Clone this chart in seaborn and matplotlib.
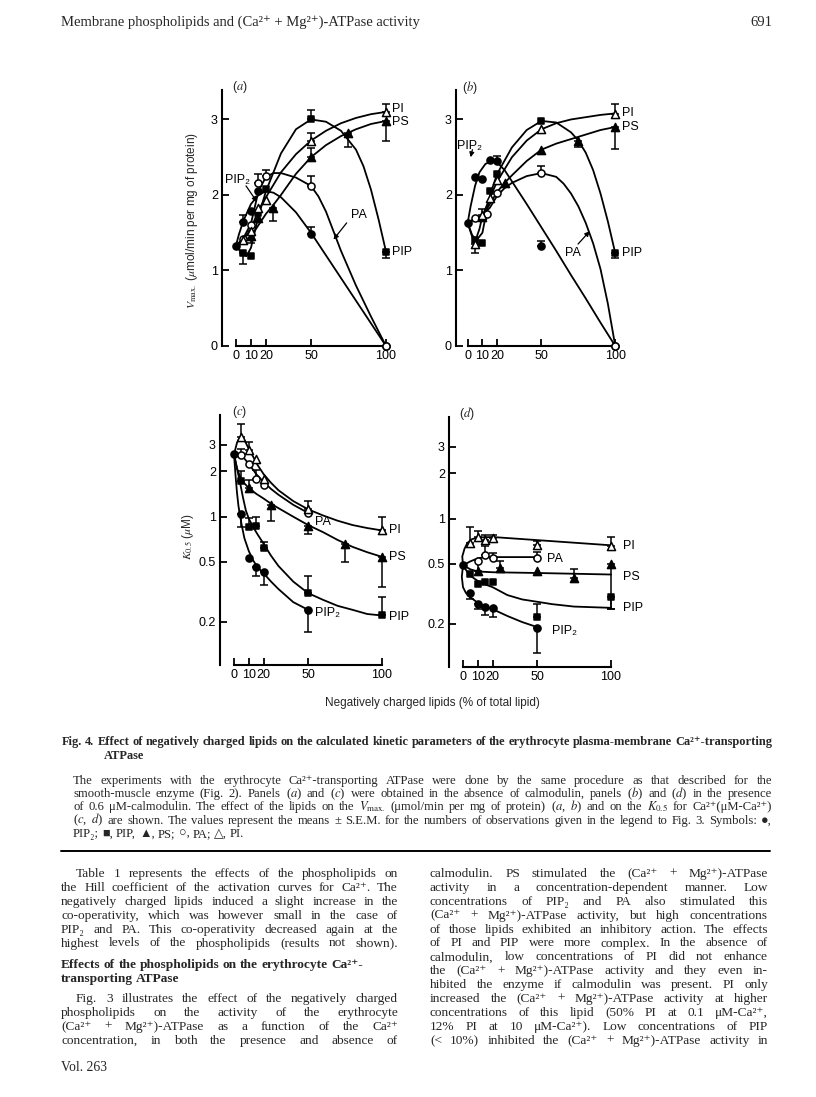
import numpy as np
import pandas as pd
import matplotlib
matplotlib.use("Agg")
import matplotlib.pyplot as plt
from matplotlib.lines import Line2D
from matplotlib.ticker import NullLocator
import seaborn as sns

# ------------------------------------------------------------------ data
X_TICKS = [0, 10, 20, 50, 100]
X_TICK_LABELS = ["0", "10", "20", "50", "100"]
VMAX_TICKS = [0, 1, 2, 3]
VMAX_TICK_LABELS = ["0", "1", "2", "3"]
K05_TICKS = [0.2, 0.5, 1, 2, 3]
K05_TICK_LABELS = ["0.2", "0.5", "1", "2", "3"]
LIPIDS = ["PIP2", "PIP", "PS", "PA", "PI"]

# points: (lipid %, value, end of error bar or None)
A_PIP2 = [(0, 1.33, None), (5, 1.64, 1.74), (10, 1.79, None), (15, 2.05, None), (50, 1.48, 1.58), (100, 0.0, None)]
A_PIP = [(5, 1.23, 1.09), (10, 1.19, None), (15, 1.76, None), (20, 2.08, None), (50, 3.00, 3.12), (100, 1.25, 1.16)]
A_PS = [(10, 1.46, None), (15, 1.70, None), (25, 1.83, 1.65), (50, 2.50, 2.62), (75, 2.82, 2.64), (100, 2.98, 2.71)]
A_PA = [(5, 1.42, None), (10, 1.60, None), (15, 2.16, 2.28), (20, 2.25, 2.33), (50, 2.12, 2.25), (100, 0.0, None)]
A_PI = [(5, 1.41, None), (10, 1.52, 1.36), (15, 1.83, None), (20, 1.93, None), (50, 2.71, 2.82), (100, 3.10, 3.21)]

A_C_PIP2 = [(0, 1.33), (2, 1.48), (5, 1.66), (10, 1.88), (15, 2.00), (20, 2.05), (25, 2.03), (30, 1.97),
            (40, 1.77), (50, 1.50), (60, 1.20), (70, 0.90), (80, 0.60), (90, 0.30), (100, 0.0)]
A_C_PIP = [(0, 1.33), (3, 1.25), (7, 1.19), (10, 1.30), (15, 1.72), (20, 2.05), (30, 2.55), (40, 2.87),
           (50, 3.00), (60, 2.97), (70, 2.85), (80, 2.60), (85, 2.38), (90, 2.07), (95, 1.68), (100, 1.25)]
A_C_PS = [(0, 1.33), (10, 1.45), (15, 1.60), (20, 1.75), (25, 1.87), (30, 2.00), (40, 2.28), (50, 2.50),
          (60, 2.66), (70, 2.78), (80, 2.87), (90, 2.94), (100, 2.98)]
A_C_PA = [(0, 1.33), (5, 1.43), (10, 1.62), (15, 2.05), (20, 2.24), (25, 2.29), (30, 2.29), (40, 2.23),
          (50, 2.12), (55, 1.98), (60, 1.78), (65, 1.52), (70, 1.26), (80, 0.80), (90, 0.39), (100, 0.0)]
A_C_PI = [(0, 1.33), (5, 1.41), (10, 1.55), (15, 1.80), (20, 1.97), (30, 2.30), (40, 2.54), (50, 2.72),
          (60, 2.85), (70, 2.95), (80, 3.02), (90, 3.07), (100, 3.10)]

B_PIP2 = [(0, 1.63, None), (5, 2.24, None), (10, 2.21, None), (15, 2.46, None), (20, 2.45, 2.51), (50, 1.33, 1.39), (100, 0.0, None)]
B_PIP = [(5, 1.40, None), (10, 1.37, None), (15, 2.05, None), (20, 2.28, None), (50, 2.98, None), (100, 1.23, 1.17)]
B_PS = [(10, 1.71, None), (25, 2.16, None), (50, 2.60, None), (75, 2.72, 2.64), (100, 2.90, 2.61)]
B_PA = [(5, 1.69, None), (13, 1.75, None), (20, 2.03, None), (50, 2.29, 2.39), (100, 0.0, None)]
B_PI = [(5, 1.35, 1.23), (10, 1.74, 1.81), (15, 1.96, None), (20, 2.20, None), (50, 2.87, None), (100, 3.07, 3.20)]

B_C_PIP2 = [(0, 1.63), (2, 1.85), (5, 2.12), (8, 2.30), (12, 2.41), (16, 2.45), (20, 2.43), (25, 2.33),
            (30, 2.18), (40, 1.88), (50, 1.57), (60, 1.26), (70, 0.94), (80, 0.63), (90, 0.31), (100, 0.0)]
B_C_PIP = [(0, 1.63), (3, 1.47), (6, 1.40), (10, 1.50), (13, 1.80), (16, 2.05), (20, 2.28), (30, 2.63),
           (40, 2.86), (50, 2.98), (60, 2.96), (70, 2.83), (75, 2.72), (80, 2.56), (85, 2.33), (90, 2.02),
           (95, 1.65), (100, 1.23)]
B_C_PS = [(0, 1.63), (10, 1.72), (15, 1.88), (20, 2.04), (25, 2.16), (30, 2.26), (40, 2.45), (50, 2.60),
          (60, 2.68), (70, 2.74), (80, 2.80), (90, 2.86), (100, 2.90)]
B_C_PA = [(0, 1.63), (5, 1.69), (10, 1.73), (15, 1.83), (20, 1.99), (25, 2.09), (30, 2.16), (40, 2.25),
          (50, 2.29), (60, 2.24), (65, 2.15), (70, 2.02), (75, 1.85), (80, 1.63), (85, 1.36), (90, 1.02),
          (95, 0.56), (100, 0.0)]
B_C_PI = [(0, 1.63), (3, 1.45), (5, 1.38), (8, 1.55), (10, 1.72), (15, 1.96), (20, 2.18), (30, 2.50),
          (40, 2.72), (50, 2.87), (60, 2.95), (70, 3.00), (80, 3.03), (90, 3.06), (100, 3.08)]

C_PIP2 = [(0, 2.60, None), (5, 1.04, 0.86), (10, 0.53, None), (15, 0.46, 0.40), (20, 0.43, 0.35), (50, 0.24, 0.17)]
C_PIP = [(5, 1.73, 2.00), (10, 0.86, 0.98), (15, 0.87, 1.00), (20, 0.62, 0.68), (50, 0.31, 0.40), (100, 0.22, 0.29)]
C_PS = [(10, 1.54, 1.75), (25, 1.20, 0.93), (50, 0.87, 0.77), (75, 0.66, 0.50), (100, 0.54, 0.34)]
C_PA = [(5, 2.57, 2.82), (10, 2.23, None), (15, 1.77, 2.04), (20, 1.62, None), (50, 1.06, None)]
C_PI = [(5, 3.41, 4.14), (10, 2.78, 3.16), (15, 2.41, None), (20, 1.77, None), (50, 1.12, 1.28), (100, 0.81, 1.00)]

C_C_PIP2 = [(0, 2.60), (1, 1.90), (2, 1.45), (3, 1.18), (5, 0.90), (7, 0.72), (10, 0.59), (13, 0.51),
            (16, 0.46), (20, 0.42), (25, 0.37), (30, 0.33), (40, 0.27), (50, 0.24)]
C_C_PIP = [(0, 2.60), (2, 2.10), (4, 1.70), (6, 1.35), (8, 1.10), (10, 0.97), (13, 0.85), (16, 0.76),
           (20, 0.66), (25, 0.55), (30, 0.47), (40, 0.37), (50, 0.31), (60, 0.28), (70, 0.255), (80, 0.24),
           (90, 0.225), (100, 0.22)]
C_C_PS = [(0, 2.60), (2, 2.10), (5, 1.75), (10, 1.55), (15, 1.42), (20, 1.32), (25, 1.22), (30, 1.14),
          (40, 1.00), (50, 0.88), (60, 0.79), (70, 0.70), (80, 0.63), (90, 0.58), (100, 0.54)]
C_C_PA = [(0, 2.60), (3, 2.60), (6, 2.50), (10, 2.25), (15, 1.92), (20, 1.70), (25, 1.53), (30, 1.40),
          (40, 1.20), (50, 1.06)]
C_C_PI = [(0, 2.60), (2, 3.10), (4, 3.38), (6, 3.35), (8, 3.10), (10, 2.82), (13, 2.50), (16, 2.20),
          (20, 1.92), (25, 1.68), (30, 1.50), (40, 1.27), (50, 1.12), (60, 1.02), (70, 0.94), (80, 0.88),
          (90, 0.84), (100, 0.81)]

D_PIP2 = [(0, 0.49, None), (5, 0.32, 0.29), (10, 0.27, 0.25), (15, 0.26, 0.23), (20, 0.255, 0.22), (50, 0.187, 0.128)]
D_PIP = [(5, 0.43, None), (10, 0.37, None), (15, 0.38, None), (20, 0.38, None), (50, 0.22, 0.27), (100, 0.30, 0.25)]
D_PS = [(10, 0.45, 0.53), (25, 0.47, 0.52), (50, 0.45, None), (75, 0.40, 0.46), (100, 0.50, 0.25)]
D_PA = [(10, 0.52, None), (15, 0.57, 0.66), (20, 0.55, 0.59), (50, 0.55, 0.60)]
D_PI = [(5, 0.69, 0.88), (10, 0.76, 0.83), (15, 0.72, 0.78), (20, 0.74, 0.78), (50, 0.67, 0.71), (100, 0.66, 0.76)]

D_C_PIP2 = [(0, 0.49), (-0.8, 0.41), (0, 0.35), (2, 0.32), (5, 0.30), (10, 0.275), (15, 0.26), (20, 0.25),
            (30, 0.225), (40, 0.205), (50, 0.19)]
D_C_PIP = [(0, 0.49), (3, 0.44), (6, 0.41), (10, 0.385), (15, 0.365), (20, 0.35), (30, 0.31), (40, 0.29),
           (50, 0.28), (60, 0.27), (75, 0.26), (100, 0.255)]
D_C_PS = [(0, 0.49), (5, 0.46), (10, 0.445), (20, 0.44), (50, 0.435), (75, 0.43), (100, 0.425)]
D_C_PA = [(0, 0.49), (5, 0.52), (10, 0.545), (15, 0.555), (20, 0.555), (50, 0.555)]
D_C_PI = [(0, 0.49), (-0.5, 0.56), (1, 0.63), (3, 0.69), (6, 0.73), (10, 0.75), (20, 0.755), (50, 0.72), (100, 0.665)]

# ------------------------------------------------------------------ text content
HEADER = "Membrane phospholipids and (Ca²⁺ + Mg²⁺)-ATPase activity"
PAGE_NO = "691"
X_LABEL = "Negatively charged lipids (% of total lipid)"
VMAX_LABEL = r"$\mathit{V}_{\mathrm{max.}}$ ($\mu$mol/min per mg of protein)"
K05_LABEL = r"$\mathit{K}_{0.5}$ ($\mu$M)"
CAPTION_TITLE = ["Fig. 4. Effect of negatively charged lipids on the calculated kinetic parameters of the erythrocyte plasma-membrane Ca²⁺-transporting",
                 "ATPase"]
CAPTION_BODY = [
    "The experiments with the erythrocyte Ca²⁺-transporting ATPase were done by the same procedure as that described for the",
    "smooth-muscle enzyme (Fig. 2). Panels ($a$) and ($c$) were obtained in the absence of calmodulin, panels ($b$) and ($d$) in the presence",
    "of 0.6 μM-calmodulin. The effect of the lipids on the $V_{\\mathrm{max.}}$ (μmol/min per mg of protein) ($a$, $b$) and on the $K_{0.5}$ for Ca²⁺(μM-Ca²⁺)",
    "($c$, $d$) are shown. The values represent the means ± S.E.M. for the numbers of observations given in the legend to Fig. 3. Symbols: ●,",
    "PIP₂; ■, PIP, ▲, PS; ○, PA; △, PI.",
]
LEFT_P1 = [
    "Table 1 represents the effects of the phospholipids on",
    "the Hill coefficient of the activation curves for Ca²⁺. The",
    "negatively charged lipids induced a slight increase in the",
    "co-operativity, which was however small in the case of",
    "PIP₂ and PA. This co-operativity decreased again at the",
    "highest levels of the phospholipids (results not shown).",
]
LEFT_HEAD = ["Effects of the phospholipids on the erythrocyte Ca²⁺-", "transporting ATPase"]
LEFT_P2 = [
    "Fig. 3 illustrates the effect of the negatively charged",
    "phospholipids on the activity of the erythrocyte",
    "(Ca²⁺ + Mg²⁺)-ATPase as a function of the Ca²⁺",
    "concentration, in both the presence and absence of",
]
RIGHT_P = [
    "calmodulin. PS stimulated the (Ca²⁺ + Mg²⁺)-ATPase",
    "activity in a concentration-dependent manner. Low",
    "concentrations of PIP₂ and PA also stimulated this",
    "(Ca²⁺ + Mg²⁺)-ATPase activity, but high concentrations",
    "of those lipids exhibited an inhibitory action. The effects",
    "of PI and PIP were more complex. In the absence of",
    "calmodulin, low concentrations of PI did not enhance",
    "the (Ca²⁺ + Mg²⁺)-ATPase activity and they even in-",
    "hibited the enzyme if calmodulin was present. PI only",
    "increased the (Ca²⁺ + Mg²⁺)-ATPase activity at higher",
    "concentrations of this lipid (50% PI at 0.1 μM-Ca²⁺,",
    "12% PI at 10 μM-Ca²⁺). Low concentrations of PIP",
    "(< 10%) inhibited the (Ca²⁺ + Mg²⁺)-ATPase activity in",
]
FOOTER = "Vol. 263"

# ------------------------------------------------------------------ setup
sns.set_theme(style="ticks")
SANS = ["Liberation Sans", "DejaVu Sans"]
SERIF = ["Liberation Serif", "DejaVu Serif", "DejaVu Sans"]
plt.rcParams["font.family"] = SANS
plt.rcParams["mathtext.fontset"] = "stix"
plt.rcParams["axes.edgecolor"] = "black"
plt.rcParams["xtick.color"] = "black"
plt.rcParams["ytick.color"] = "black"

W, H = 816, 1097
fig = plt.figure(figsize=(W / 100, H / 100), dpi=100)
fig.patch.set_facecolor("white")

MARKERS = {"PIP2": ("o", "black", 26), "PIP": ("s", "black", 24), "PS": ("^", "black", 34),
           "PA": ("o", "white", 26), "PI": ("^", "white", 34)}


def make_axes(left, right, top, bottom):
    return fig.add_axes([left / W, 1 - bottom / H, (right - left) / W, (bottom - top) / H])


def draw_panel(ax, pts, curves):
    for lip in LIPIDS:
        cx, cy = zip(*curves[lip])
        df = pd.DataFrame({"x": cx, "y": cy})
        sns.lineplot(data=df, x="x", y="y", ax=ax, sort=False, estimator=None,
                     color="black", linewidth=1.3, zorder=2)
    for lip in LIPIDS:
        p = pts[lip]
        xs = [q[0] for q in p]
        ys = [q[1] for q in p]
        ebx, eby, lo, hi = [], [], [], []
        for x, y, e in p:
            if e is None:
                continue
            ebx.append(x)
            eby.append(y)
            lo.append(max(y - e, 0))
            hi.append(max(e - y, 0))
        if ebx:
            ax.errorbar(ebx, eby, yerr=[lo, hi], fmt="none", ecolor="black",
                        elinewidth=1.1, capsize=3, capthick=1.1, zorder=3)
        m, fc, s = MARKERS[lip]
        sns.scatterplot(x=xs, y=ys, ax=ax, marker=m, s=s, color=fc,
                        edgecolor="black", linewidth=1.1, zorder=5, clip_on=False)


def style_axes(ax, xlim, ylim, log, yticks, ylabels):
    ax.set_xlim(*xlim)
    if log:
        ax.set_yscale("log")
    ax.set_ylim(*ylim)
    ax.set_yticks(yticks)
    ax.set_yticklabels(ylabels)
    ax.yaxis.set_minor_locator(NullLocator())
    ax.set_xticks(X_TICKS)
    ax.set_xticklabels(X_TICK_LABELS)
    for s in ["top", "right"]:
        ax.spines[s].set_visible(False)
    for s in ["left", "bottom"]:
        ax.spines[s].set_linewidth(1.5)
        ax.spines[s].set_color("black")
    ax.spines["bottom"].set_bounds(0, 100)
    ax.tick_params(axis="both", which="major", direction="in", length=5, width=1.3,
                   labelsize=9, pad=3, colors="black")
    ax.set_xlabel("")
    ax.set_ylabel("")
    ax.set_facecolor("none")


def lab(ax, x, y, s, ha="left"):
    ax.text(x, y, s, fontsize=9, ha=ha, va="center", family=SANS, color="black", zorder=6)


def arrow(ax, xy, xytext):
    ax.annotate("", xy=xy, xytext=xytext,
                arrowprops=dict(arrowstyle="-|>", color="black", lw=0.9, mutation_scale=7,
                                shrinkA=0, shrinkB=0))


# panel (a)
ax_a = make_axes(222, 401, 90, 346)
draw_panel(ax_a, dict(PIP2=A_PIP2, PIP=A_PIP, PS=A_PS, PA=A_PA, PI=A_PI),
           dict(PIP2=A_C_PIP2, PIP=A_C_PIP, PS=A_C_PS, PA=A_C_PA, PI=A_C_PI))
style_axes(ax_a, (-9.3, 110), (0, 3.39), False, VMAX_TICKS, VMAX_TICK_LABELS)
lab(ax_a, 104, 3.14, "PI")
lab(ax_a, 104, 2.96, "PS")
lab(ax_a, 104, 1.25, "PIP")
lab(ax_a, 77, 1.74, "PA")
lab(ax_a, 1, 2.2, "PIP₂", ha="center")
arrow(ax_a, (14, 1.91), (6.7, 2.12))
arrow(ax_a, (65, 1.41), (73.8, 1.63))

# panel (b)
ax_b = make_axes(456, 630, 90, 346)
draw_panel(ax_b, dict(PIP2=B_PIP2, PIP=B_PIP, PS=B_PS, PA=B_PA, PI=B_PI),
           dict(PIP2=B_C_PIP2, PIP=B_C_PIP, PS=B_C_PS, PA=B_C_PA, PI=B_C_PI))
style_axes(ax_b, (-7.9, 110), (0, 3.39), False, VMAX_TICKS, VMAX_TICK_LABELS)
lab(ax_b, 104.5, 3.08, "PI")
lab(ax_b, 104.5, 2.90, "PS")
lab(ax_b, 104.5, 1.23, "PIP")
lab(ax_b, 71, 1.23, "PA", ha="center")
lab(ax_b, 1.5, 2.65, "PIP₂", ha="center")
arrow(ax_b, (2, 2.50), (3.2, 2.60))
arrow(ax_b, (82.7, 1.52), (74.8, 1.35))

# panel (c)
ax_c = make_axes(220, 397, 415, 665)
draw_panel(ax_c, dict(PIP2=C_PIP2, PIP=C_PIP, PS=C_PS, PA=C_PA, PI=C_PI),
           dict(PIP2=C_C_PIP2, PIP=C_C_PIP, PS=C_C_PS, PA=C_C_PA, PI=C_C_PI))
style_axes(ax_c, (-9.46, 110.1), (0.103, 4.75), True, K05_TICKS, K05_TICK_LABELS)
lab(ax_c, 105, 0.815, "PI")
lab(ax_c, 105, 0.54, "PS")
lab(ax_c, 105, 0.215, "PIP")
lab(ax_c, 55, 0.228, "PIP₂")
lab(ax_c, 55, 0.92, "PA")

# panel (d)
ax_d = make_axes(449, 626, 417, 667)
draw_panel(ax_d, dict(PIP2=D_PIP2, PIP=D_PIP, PS=D_PS, PA=D_PA, PI=D_PI),
           dict(PIP2=D_C_PIP2, PIP=D_C_PIP, PS=D_C_PS, PA=D_C_PA, PI=D_C_PI))
style_axes(ax_d, (-9.46, 110.1), (0.103, 4.75), True, K05_TICKS, K05_TICK_LABELS)
lab(ax_d, 108, 0.66, "PI")
lab(ax_d, 57, 0.54, "PA")
lab(ax_d, 108, 0.41, "PS")
lab(ax_d, 108, 0.255, "PIP")
lab(ax_d, 60, 0.18, "PIP₂")


def ftext(x, y, s, **kw):
    return fig.text(x / W, 1 - y / H, s, **kw)


ftext(240, 87, "($a$)", fontsize=9, ha="center", va="center", family=SANS)
ftext(470, 87, "($b$)", fontsize=9, ha="center", va="center", family=SANS)
ftext(240, 412, "($c$)", fontsize=9, ha="center", va="center", family=SANS)
ftext(467, 413, "($d$)", fontsize=9, ha="center", va="center", family=SANS)
ftext(192, 221, VMAX_LABEL, fontsize=8.5, rotation=90, ha="center", va="center", family=SANS)
ftext(188, 537, K05_LABEL, fontsize=8.5, rotation=90, ha="center", va="center", family=SANS)
ftext(432, 703, X_LABEL, fontsize=8.5, ha="center", va="center", family=SANS)

# ------------------------------------------------------------------ page text
fig.canvas.draw()
R = fig.canvas.get_renderer()
PX = 100 / 72


def put_line(s, x0, x1, y, fs, weight="normal", justify=True):
    words = s.split(" ")
    ts = [ftext(0, y, w, fontsize=fs, family=SERIF, weight=weight, va="baseline", ha="left")
          for w in words]
    ws = [t.get_window_extent(R).width for t in ts]
    sp = 0.25 * fs * PX
    n = len(ws)
    avail = x1 - x0
    natural = sum(ws) + sp * (n - 1)
    if natural > avail:
        k = avail / natural
        fs = fs * k
        for t in ts:
            t.set_fontsize(fs)
        ws = [t.get_window_extent(R).width for t in ts]
        sp *= k
    gap = (avail - sum(ws)) / (n - 1) if (justify and n > 1) else sp
    x = x0
    for t, w in zip(ts, ws):
        t.set_x(x / W)
        x += w + gap
    return fs


ftext(61, 26, HEADER, fontsize=10.5, family=SERIF, va="baseline", ha="left")
ftext(772, 26, PAGE_NO, fontsize=10.5, family=SERIF, va="baseline", ha="right")

title_fs = put_line(CAPTION_TITLE[0], 62, 772, 745, 9.8, weight="bold")
put_line(CAPTION_TITLE[1], 104, 772, 759, title_fs, weight="bold", justify=False)

CAP_Y0, CAP_LS = 784, 13.2
for i, s in enumerate(CAPTION_BODY):
    put_line(s, 73, 772, CAP_Y0 + i * CAP_LS, 9.1, justify=(i < len(CAPTION_BODY) - 1))

fig.add_artist(Line2D([61 / W, 770 / W], [1 - 851 / H, 1 - 851 / H], color="black", lw=1.4))

LS = 13.9
Y0 = 877
BODY_FS = 9.6
for i, s in enumerate(LEFT_P1):
    put_line(s, 76 if i == 0 else 61, 398, Y0 + i * LS, BODY_FS)
put_line(LEFT_HEAD[0], 61, 398, 968, BODY_FS, weight="bold", justify=False)
put_line(LEFT_HEAD[1], 61, 398, 982, BODY_FS, weight="bold", justify=False)
for i, s in enumerate(LEFT_P2):
    put_line(s, 76 if i == 0 else 61, 398, Y0 + (9 + i) * LS, BODY_FS)
for i, s in enumerate(RIGHT_P):
    put_line(s, 430, 768, Y0 + i * LS, BODY_FS)

ftext(61, 1071, FOOTER, fontsize=9.8, family=SERIF, va="baseline", ha="left")

fig.savefig("out.png", dpi=100, facecolor="white")
